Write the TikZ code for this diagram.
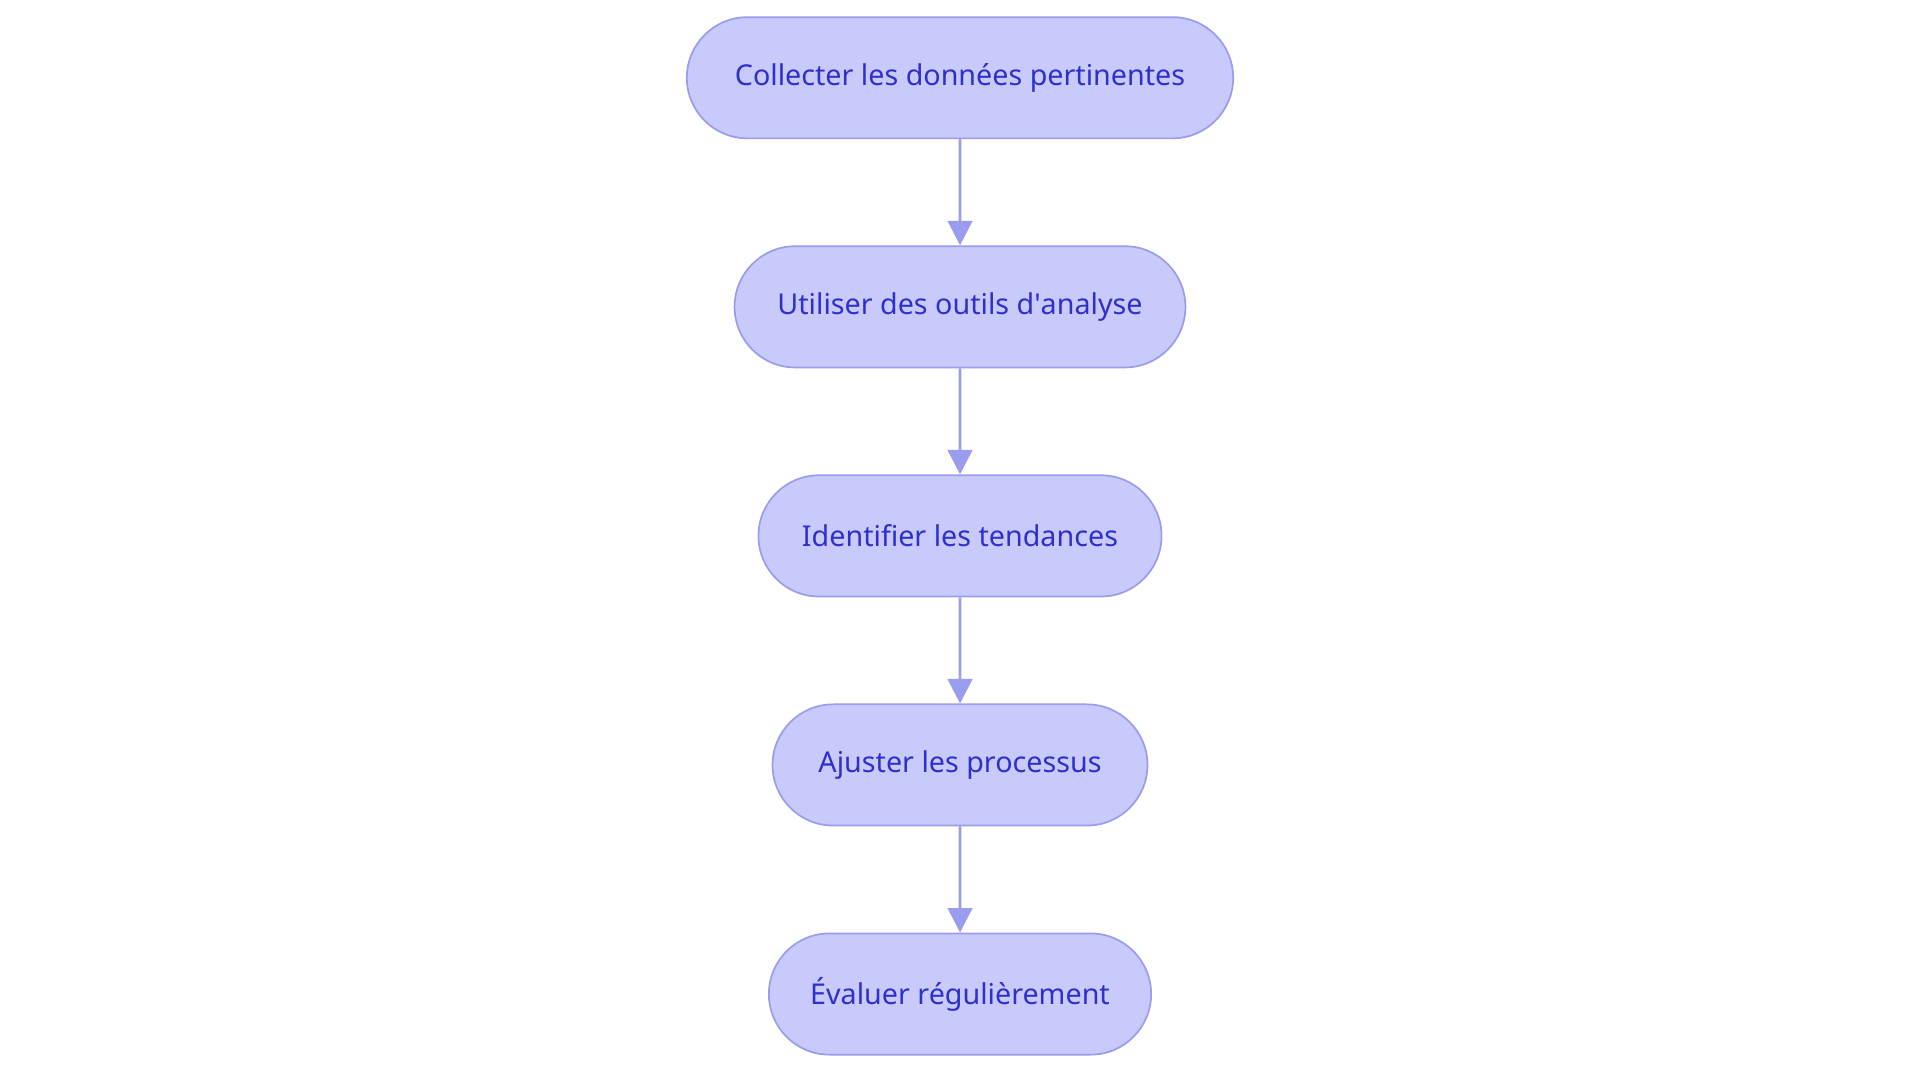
\documentclass[tikz,border=0pt]{standalone}
\usepackage{fontspec}
\setmainfont{Noto Sans}
\usetikzlibrary{shapes.misc,positioning,arrows.meta}
\definecolor{stepfill}{HTML}{C9CAFC}
\definecolor{stepdraw}{HTML}{9A9DEE}
\definecolor{steptext}{HTML}{2F2FCC}
\tikzset{
  stepbox/.style={rounded rectangle, draw=stepdraw, fill=stepfill, text=steptext,
    line width=1.2pt, minimum height=2.97cm, font=\fontsize{20}{24}\selectfont},
  flow/.style={stepdraw, line width=2pt, -{Triangle[length=0.6cm,width=0.6cm]}}
}
\begin{document}
\begin{tikzpicture}[node distance=2.6cm]
  \useasboundingbox (0,0) rectangle (47.04,-26.52);

  % steps
  \node[stepbox, minimum width=13.62cm] (collect) at (23.52,-1.905) {Collecter les données pertinentes};
  \node[stepbox, minimum width=11.28cm, below=of collect] (tools) {Utiliser des outils d\textquotesingle analyse};
  \node[stepbox, minimum width=10.11cm, below=of tools] (trends) {Identifier les tendances};
  \node[stepbox, minimum width=9.42cm, below=of trends] (adjust) {Ajuster les processus};
  \node[stepbox, minimum width=9.6cm, below=of adjust] (eval) {Évaluer régulièrement};

  % arrows
  \draw[flow] (collect) -- (tools);
  \draw[flow] (tools) -- (trends);
  \draw[flow] (trends) -- (adjust);
  \draw[flow] (adjust) -- (eval);

\end{tikzpicture}
\end{document}
